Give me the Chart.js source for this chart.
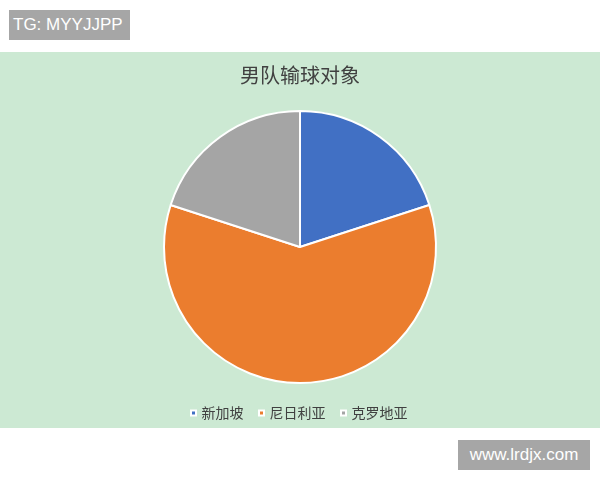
<!DOCTYPE html>
<html>
<head>
<meta charset="utf-8">
<script src="https://cdn.jsdelivr.net/npm/chart.js@4"></script>
<style>
  body { margin: 0; background: #fff; width: 600px; height: 480px; position: relative; overflow: hidden; }
  .tag { position: absolute; background: #a6a6a6; color: #fff; font-family: "Liberation Sans", Arial, sans-serif; }
  #tg { left: 9px; top: 10px; width: 121px; height: 30px; line-height: 30px; font-size: 17px; padding-left: 4px; box-sizing: border-box; }
  #site { left: 458px; top: 440px; width: 132px; height: 30px; line-height: 30px; font-size: 17px; text-align: center; }
  #panel { position: absolute; left: 0; top: 52px; width: 600px; height: 376px; background: #cce9d3; }
</style>
</head>
<body>
<div class="tag" id="tg">TG: MYYJJPP</div>
<div id="panel"><canvas id="lossChart"></canvas></div>
<div class="tag" id="site">www.lrdjx.com</div>
<script>
document.addEventListener("DOMContentLoaded", function () {
  const opponents = ["新加坡", "尼日利亚", "克罗地亚"];
  const lossCounts = [1, 3, 1];
  const sliceColors = ["#4170c4", "#eb7d2e", "#a5a5a5"];
  const chartTitle = "男队输球对象";

  const cjkFont = '"Noto Sans CJK SC", "Noto Sans", sans-serif';

  new Chart(document.getElementById("lossChart"), {
    type: "pie",
    data: {
      labels: opponents,
      datasets: [{
        data: lossCounts,
        backgroundColor: sliceColors,
        borderColor: "#ffffff",
        borderWidth: 2,
      }],
    },
    options: {
      responsive: true,
      maintainAspectRatio: false,
      animation: false,
      radius: 136,
      layout: { padding: { top: 0, bottom: -2 } },
      plugins: {
        title: {
          display: true,
          text: chartTitle,
          color: "#404040",
          font: { family: cjkFont, size: 20, weight: "normal" },
          padding: { top: 11, bottom: 18 },
        },
        legend: {
          display: true,
          position: "bottom",
          labels: {
            usePointStyle: true,
            pointStyle: "rect",
            boxWidth: 2,
            boxHeight: 5,
            padding: 17,
            color: "#404040",
            font: { family: cjkFont, size: 14 },
          },
        },
        tooltip: { enabled: false },
      },
    },
  });
});
</script>
</body>
</html>
